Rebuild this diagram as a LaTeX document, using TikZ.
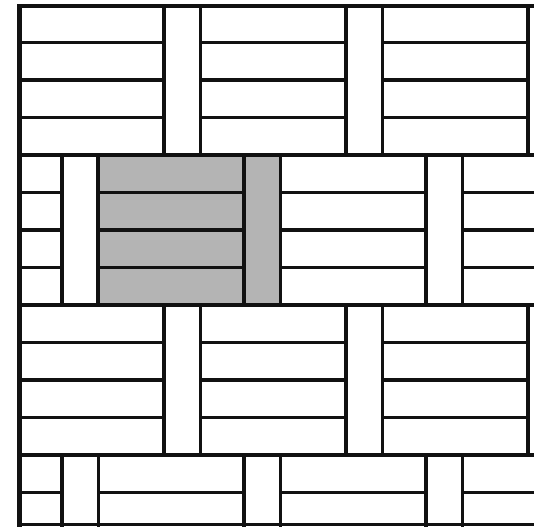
\documentclass[tikz,border=0pt]{standalone}
\usetikzlibrary{calc}
\definecolor{bwInk}{HTML}{111111}
\definecolor{bwGray}{HTML}{B4B4B4}

\begin{document}
\begin{tikzpicture}[
  x=0.02cm, y=-0.02cm,
  brick/.style={draw=bwInk, line width=2pt, fill=white},
  picked/.style={brick, fill=bwGray},
  frame/.style={draw=bwInk, line width=2.8pt},
]
  \path[use as bounding box] (0,0) rectangle (534,527);

  % Basket weave: per band, a stack of four long bricks then one upright bar.
  \begin{scope}
    \clip (18,5) rectangle (534,527);
    \foreach \ty/\bx in {5/164, 155/62, 305/164, 455/62} {
      \foreach \k in {-1,0,1,2,3} {
        \pgfmathsetmacro\xb{\bx+182*\k}
        \pgfmathsetmacro\xl{\xb-145.5}
        \foreach \r in {0,1,2,3}
          \draw[brick] (\xl,\ty+37.5*\r) rectangle (\xb,\ty+37.5*\r+37.5);
        \draw[brick] (\xb,\ty) rectangle (\xb+36.5,\ty+150);
      }
    }

    % Highlighted unit: one brick stack and its bar.
    \foreach \r in {0,1,2,3}
      \draw[picked] (98,155+37.5*\r) rectangle (244,155+37.5*\r+37.5);
    \draw[picked] (244,155) rectangle (280.5,305);
  \end{scope}

  \draw[brick, fill=none] (18,524.5) -- (534,524.5);
  \draw[frame] (19.5,527) -- (19.5,6) -- (534,6);
\end{tikzpicture}
\end{document}
